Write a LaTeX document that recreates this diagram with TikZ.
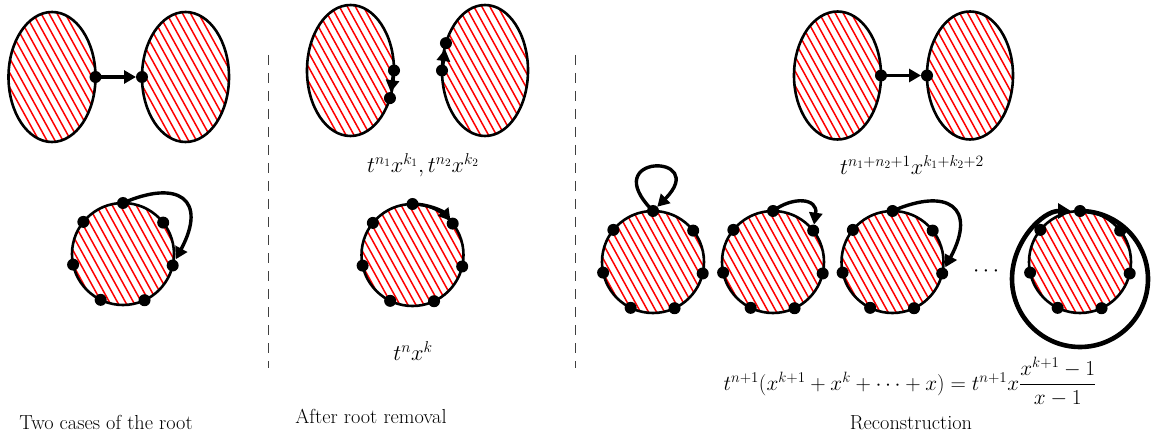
\RequirePackage{fix-cm}
\documentclass[tikz,border=0pt]{standalone}
\usepackage{amsmath}
\usetikzlibrary{arrows.meta,shapes.geometric,calc}
\tikzset{
  blob/.style={draw, line width=2.6pt, inner sep=0pt, outer sep=0pt,
    path picture={\foreach \i in {-18,...,18}
      \draw[red, line width=1.5pt] ($(path picture bounding box.center)+(\i*8-55,100)$) -- ++(110,-200);}},
  oval/.style={blob, ellipse, minimum width=87pt, minimum height=130pt},
  disc/.style={blob, circle, minimum size=102pt},
  dot/.style={circle, fill=black, inner sep=0pt, minimum size=12pt},
  arr/.style={line width=3.4pt, -{Triangle[length=12pt,width=13pt]}, shorten >=6pt},
  bigarr/.style={line width=4.6pt, -{Triangle[length=13pt,width=15pt]}, shorten >=9pt},
  divider/.style={dash pattern=on 10pt off 8pt, line width=0.9pt, black!75},
  lbl/.style={font=\fontsize{22.5}{27}\selectfont, inner sep=0pt},
  frm/.style={font=\fontsize{21.3}{26}\selectfont, inner sep=0pt},
  captxt/.style={font=\fontsize{20.3}{24}\selectfont, inner sep=0pt, anchor=base},
}
\newcommand\sevendots[1]{%
  \foreach \k in {0,...,6}{%
    \pgfmathsetmacro\dang{90+\k*360/7}%
    \node[dot] (#1d\k) at (#1.\dang) {};}}
\begin{document}
\begin{tikzpicture}[x=1pt,y=1pt]
\useasboundingbox (0,0) rectangle (1151,437);
% dividers
\coordinate (v1t) at (268,382); \coordinate (v1b) at (268,69);
\coordinate (v2t) at (575,382); \coordinate (v2b) at (575,69);
\draw[divider] (v1t) -- (v1b);
\draw[divider] (v2t) -- (v2b);
% ---------- left column ----------
\node[oval] (E1) at (52,360) {};
\node[oval] (E2) at (185.5,360) {};
\draw[arr] (E1.east) -- (E2.west);
\node[dot] (e1r) at (E1.east) {};
\node[dot] (e2l) at (E2.west) {};
\node[disc] (C1) at (123,183) {};
\draw[arr] (C1.90) .. controls ($(C1.center)+(55,75)$) and ($(C1.center)+(85,55)$) .. (C1.-12.86);
\sevendots{C1}
\node[captxt] (cap1) at (106,8) {Two cases of the root};
% ---------- middle column ----------
\node[oval, minimum height=131pt] (E3) at (350.5,366.5) {};
\node[oval, minimum width=86pt, minimum height=131pt] (E4) at (485,366.5) {};
\draw[arr] (E3.east) -- (E3.-35);
\draw[arr] (E4.west) -- (E4.145);
\node[dot] (e3a) at (E3.east) {};
\node[dot] (e3b) at (E3.-35) {};
\node[dot] (e4a) at (E4.west) {};
\node[dot] (e4b) at (E4.145) {};
\node[lbl] (lab1) at (423,272) {$t^{n_1}x^{k_1}, t^{n_2}x^{k_2}$};
\node[disc] (C2) at (412.5,182) {};
\draw[arr, shorten >=3pt] (C2.90) arc[start angle=90, end angle=38.57, radius=51pt];
\sevendots{C2}
\node[lbl] (lab2) at (413,86) {$t^nx^k$};
\node[captxt] (cap2) at (371,14) {After root removal};
% ---------- right column ----------
\node[oval, minimum height=128pt] (E5) at (837.5,361.5) {};
\node[oval, minimum width=86pt, minimum height=128pt] (E6) at (970,361.5) {};
\draw[arr] (E5.east) -- (E6.west);
\node[dot] (e5r) at (E5.east) {};
\node[dot] (e6l) at (E6.west) {};
\node[lbl] (lab3) at (912,272) {$t^{n_1+n_2+1}x^{k_1+k_2+2}$};
\node[disc] (R1) at (653,175) {};
\node[disc] (R2) at (773,175) {};
\node[disc] (R3) at (892.5,175) {};
\node[disc] (R4) at (1080,175) {};
\draw[arr] (R1.90) .. controls ($(R1.center)+(-58,109)$) and ($(R1.center)+(58,109)$) .. (R1.90);
\draw[arr] (R2.90) .. controls ($(R2.center)+(20,66)$) and ($(R2.center)+(45,64)$) .. (R2.38.57);
\draw[arr] (R3.90) .. controls ($(R3.center)+(55,75)$) and ($(R3.center)+(85,55)$) .. (R3.-12.86);
\draw[bigarr] (R4.90) arc[start angle=90, end angle=-270, radius=68pt];
\sevendots{R1}
\sevendots{R2}
\sevendots{R3}
\sevendots{R4}
\node[lbl] (cdots) at (988,166) {$\cdots$};
\node[frm, anchor=base] (form) at (910,47) {$t^{n+1}(x^{k+1}+x^k+\cdots+x)=t^{n+1}x\dfrac{x^{k+1}-1}{x-1}$};
\node[captxt] (cap3) at (911,8) {Reconstruction};
\end{tikzpicture}
\end{document}
